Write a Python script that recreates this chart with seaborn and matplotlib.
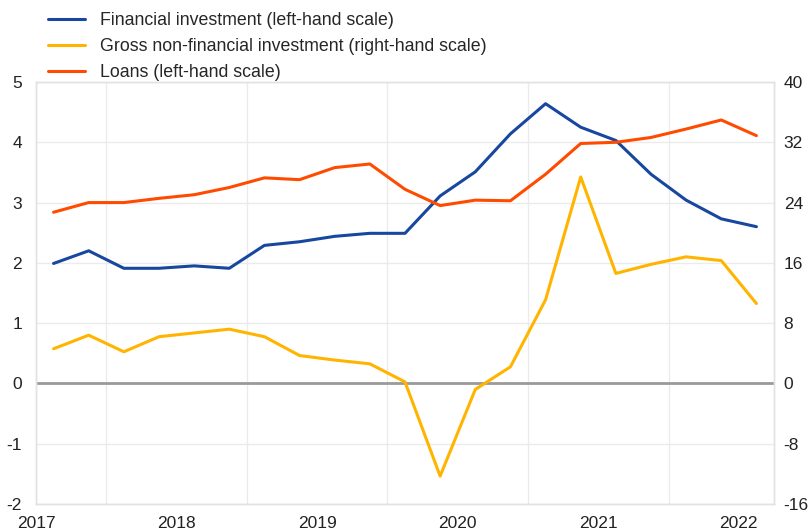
import matplotlib
matplotlib.use('Agg')
import matplotlib.pyplot as plt
import seaborn as sns
import pandas as pd

# quarterly data, 2017Q1 - 2022Q1
quarters = pd.period_range('2017Q1', '2022Q1', freq='Q')
financial = [1.99, 2.20, 1.91, 1.91, 1.95, 1.91, 2.29, 2.35, 2.44, 2.49, 2.49,
             3.11, 3.51, 4.14, 4.64, 4.25, 4.03, 3.47, 3.04, 2.73, 2.60]
loans = [2.84, 3.00, 3.00, 3.07, 3.13, 3.25, 3.41, 3.38, 3.58, 3.64, 3.22,
         2.95, 3.04, 3.03, 3.47, 3.98, 4.00, 4.08, 4.22, 4.37, 4.11]
non_financial = [4.6, 6.4, 4.2, 6.2, 6.7, 7.2, 6.2, 3.7, 3.1, 2.6, 0.2,
                 -12.3, -0.8, 2.2, 11.1, 27.4, 14.6, 15.8, 16.8, 16.3, 10.6]
year_ticks = [2017, 2018, 2019, 2020, 2021, 2022]
left_ticks = [-2, -1, 0, 1, 2, 3, 4, 5]
right_ticks = [-16, -8, 0, 8, 16, 24, 32, 40]

BLUE = '#17479e'
YELLOW = '#ffb400'
ORANGE = '#ff4b00'
GRID = '#ebebeb'

sns.set_style('white')
plt.rcParams['font.family'] = ['Liberation Sans', 'DejaVu Sans']

df = pd.DataFrame({
    'x': quarters.year + (quarters.quarter - 0.5) / 4,
    'financial': financial,
    'loans': loans,
    'non_financial': non_financial,
})

fig = plt.figure(figsize=(8.11, 5.31), dpi=100)
ax = fig.add_axes([36 / 811, 1 - 504 / 531, (774 - 36) / 811, (504 - 82) / 531])
ax2 = ax.twinx()

sns.lineplot(data=df, x='x', y='financial', ax=ax, color=BLUE, lw=2.2,
             label='Financial investment (left-hand scale)', legend=False)
sns.lineplot(data=df, x='x', y='loans', ax=ax, color=ORANGE, lw=2.2,
             label='Loans (left-hand scale)', legend=False)
sns.lineplot(data=df, x='x', y='non_financial', ax=ax2, color=YELLOW, lw=2.2,
             label='Gross non-financial investment (right-hand scale)', legend=False)

ax.set_xlim(2017, 2022.25)
ax.set_ylim(-2, 5)
ax2.set_ylim(-16, 40)

ax.set_yticks(left_ticks)
ax.set_yticklabels([str(t) for t in left_ticks])
ax2.set_yticks(right_ticks)
ax2.set_yticklabels([str(t) for t in right_ticks])
ax.set_xticks(year_ticks)
ax.set_xticklabels([str(y) for y in year_ticks])
ax.set_xticks(df['x'], minor=True)

ax.tick_params(axis='x', which='major', length=0, pad=9, labelsize=12.5, colors='#222222')
ax.tick_params(axis='x', which='minor', length=4, color='#d8d8d8', width=1)
ax.tick_params(axis='y', length=0, pad=10, labelsize=12.5, colors='#222222')
ax2.tick_params(axis='y', length=0, pad=7, labelsize=12.5, colors='#222222')

ax.grid(False)
ax2.grid(False)
for t in left_ticks:
    ax.axhline(t, color=GRID, lw=1, zorder=0)
for y in year_ticks[:-1]:
    ax.axvline(y + 0.5, color=GRID, lw=1, zorder=0)
ax.axhline(0, color='#9a9a9a', lw=2, zorder=1)

for a in (ax, ax2):
    for s in a.spines.values():
        s.set_color('#e2e2e2')
        s.set_linewidth(1)

ax.set_xlabel('')
ax.set_ylabel('')
ax2.set_ylabel('')

h1, l1 = ax.get_legend_handles_labels()
h2, l2 = ax2.get_legend_handles_labels()
handles = [h1[0], h2[0], h1[1]]
labels = [l1[0], l2[0], l1[1]]
fig.legend(handles, labels, loc='upper left', bbox_to_anchor=(48 / 811, 1 - 12 / 531),
           frameon=False, fontsize=12.8, borderpad=0, borderaxespad=0,
           handlelength=2.1, handletextpad=0.85, labelspacing=0.5)

fig.savefig('out.png', dpi=100)
